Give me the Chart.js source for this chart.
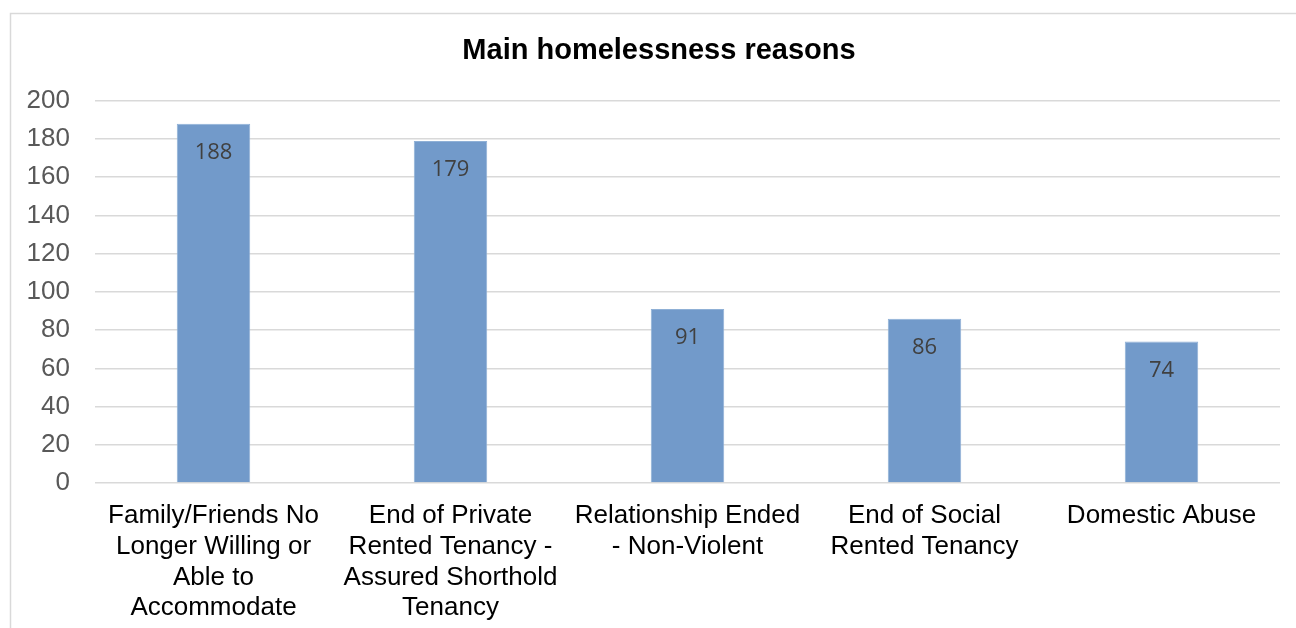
<!DOCTYPE html>
<html lang="en">
<head>
    <meta charset="UTF-8">
    <title>Main homelessness reasons</title>
    <script src="https://cdn.jsdelivr.net/npm/chart.js@4.4.0/dist/chart.umd.min.js"></script>
    <style>
        html, body { margin: 0; padding: 0; background: #fff; }
        #wrap { width: 1296px; height: 628px; }
    </style>
</head>
<body>
    <div id="wrap"><canvas id="myChart"></canvas></div>
    <script>
        // categories and counts
        const reasons = [
            ['Family/Friends No', 'Longer Willing or', 'Able to', 'Accommodate'],
            ['End of Private', 'Rented Tenancy -', 'Assured Shorthold', 'Tenancy'],
            ['Relationship Ended', '- Non-Violent'],
            ['End of Social', 'Rented Tenancy'],
            ['Domestic Abuse']
        ];
        const counts = [188, 179, 91, 86, 74];
        const yTicks = [0, 20, 40, 60, 80, 100, 120, 140, 160, 180, 200];

        // draws the value inside the top of each bar
        const valueLabels = {
            id: 'valueLabels',
            afterDatasetsDraw(chart) {
                const c = chart.ctx;
                const meta = chart.getDatasetMeta(0);
                c.save();
                c.font = '22px "Open Sans", sans-serif';
                c.fillStyle = '#404040';
                c.textAlign = 'center';
                c.textBaseline = 'middle';
                meta.data.forEach((bar, i) => {
                    c.fillText(String(chart.data.datasets[0].data[i]), bar.x, bar.y + 29);
                });
                c.restore();
            }
        };

        // light frame around the chart, like the office export
        const frame = {
            id: 'frame',
            afterLayout(chart) {
                // the original title sits a bit right of the canvas centre
                if (chart.titleBlock) chart.titleBlock.left += 38;
            },
            beforeDraw(chart) {
                const c = chart.ctx;
                c.save();
                c.fillStyle = '#fff';
                c.fillRect(0, 0, chart.width, chart.height);
                c.strokeStyle = '#d9d9d9';
                c.lineWidth = 1.5;
                c.beginPath();
                c.moveTo(10.5, chart.height + 5);
                c.lineTo(10.5, 13.5);
                c.lineTo(chart.width + 5, 13.5);
                c.stroke();
                c.restore();
            }
        };

        const ctx = document.getElementById('myChart');
        new Chart(ctx, {
            type: 'bar',
            data: {
                labels: reasons,
                datasets: [{
                    data: counts,
                    backgroundColor: '#729aca',
                    borderColor: '#8fb0d6',
                    borderWidth: 1,
                    barPercentage: 0.31,
                    categoryPercentage: 1
                }]
            },
            options: {
                responsive: true,
                maintainAspectRatio: false,
                animation: false,
                layout: { padding: { left: 0, right: 16, top: 0, bottom: 0 } },
                plugins: {
                    legend: { display: false },
                    tooltip: { enabled: false },
                    title: {
                        display: true,
                        text: 'Main homelessness reasons',
                        color: '#000',
                        font: { family: '"Liberation Sans", Arial, sans-serif', size: 29, weight: 'bold' },
                        padding: { top: 34, bottom: 32 }
                    }
                },
                scales: {
                    y: {
                        min: 0,
                        max: 200,
                        afterBuildTicks(axis) { axis.ticks = yTicks.map(v => ({ value: v })); },
                        afterFit(axis) { axis.width = 95; },
                        border: { display: false },
                        grid: { color: '#d9d9d9', lineWidth: 1.5, drawTicks: false },
                        ticks: {
                            padding: 25,
                            color: '#595959',
                            font: { family: '"Liberation Sans", Arial, sans-serif', size: 26 }
                        }
                    },
                    x: {
                        afterFit(axis) { axis.height = 145; },
                        border: { display: false },
                        grid: { display: false },
                        ticks: {
                            padding: 9,
                            maxRotation: 0,
                            autoSkip: false,
                            color: '#000',
                            font: { family: '"Liberation Sans", Arial, sans-serif', size: 26, lineHeight: 1.19 }
                        }
                    }
                }
            },
            plugins: [frame, valueLabels]
        });
    </script>
</body>
</html>
